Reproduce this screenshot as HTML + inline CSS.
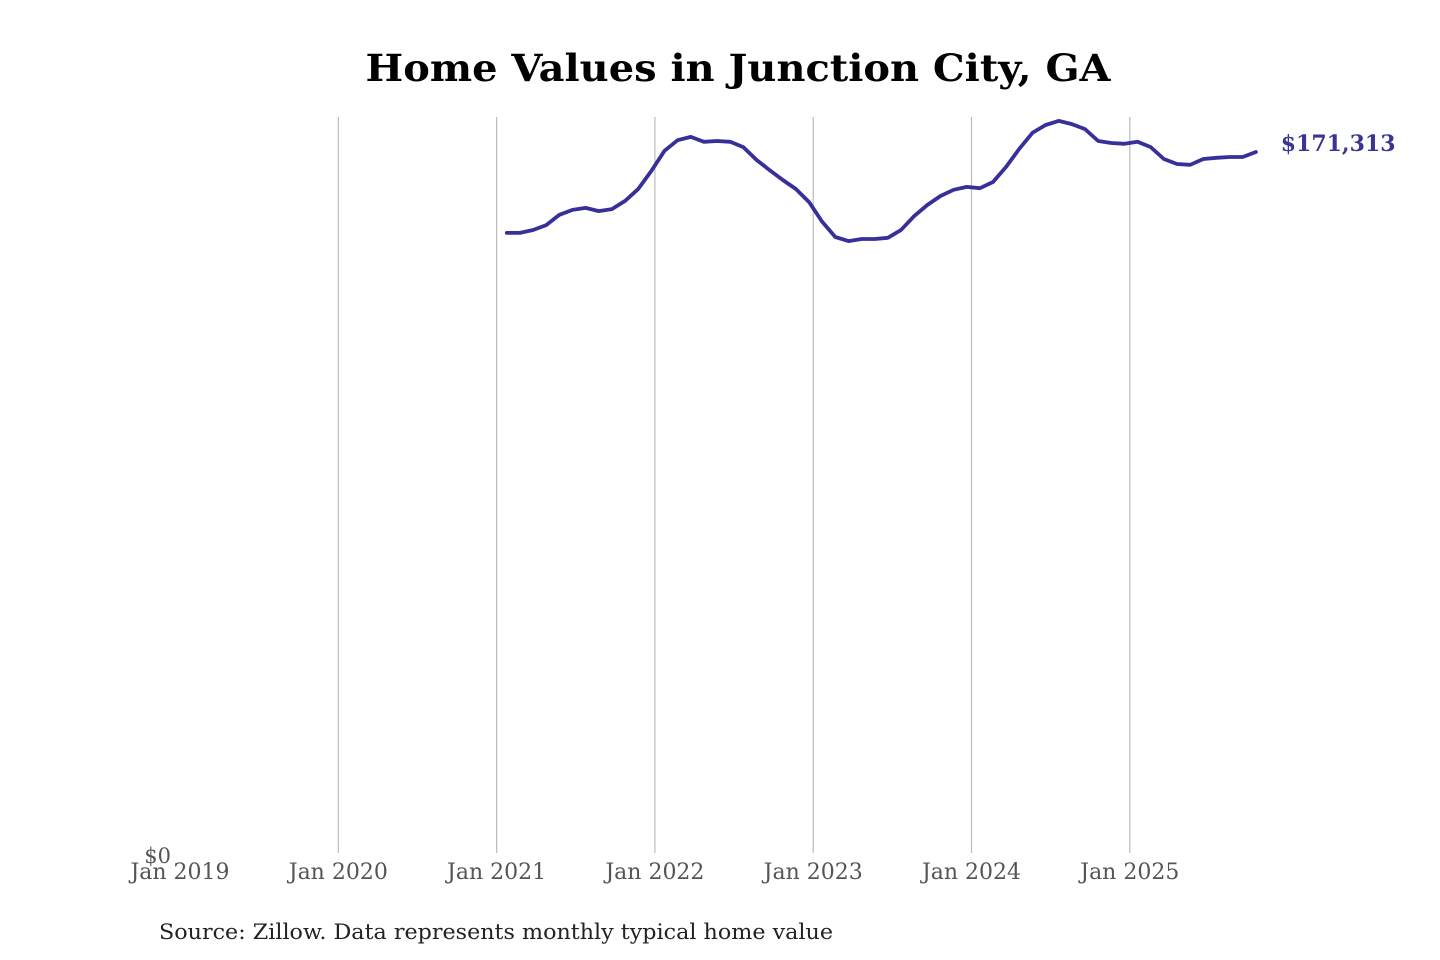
<!DOCTYPE html>
<html><head><meta charset="utf-8"><style>
html,body{margin:0;padding:0;background:#fff;}
svg{display:block;}
text{font-family:"DejaVu Serif","Liberation Serif",serif;}
</style></head><body>
<svg id="chart" width="1440" height="960" viewBox="0 0 1440 960">
<text x="738" y="81" text-anchor="middle" font-size="37" font-weight="bold" fill="#000" textLength="745" lengthAdjust="spacingAndGlyphs">Home Values in Junction City, GA</text>
<g id="grid"></g>
<g id="xaxis"></g>
<text x="171" y="863" text-anchor="end" font-size="21" fill="#555">$0</text>
<g id="series"></g>
<text x="159" y="939" font-size="21" fill="#222" textLength="674" lengthAdjust="spacingAndGlyphs">Source: Zillow. Data represents monthly typical home value</text>
</svg>
<script>
const tickLabels = ["Jan 2019","Jan 2020","Jan 2021","Jan 2022","Jan 2023","Jan 2024","Jan 2025"];
const startMonthIndex = 25; // Feb 2021, months since Jan 2019
const homeValues = [151.6,151.6,152.3,153.5,156.0,157.2,157.7,156.9,157.4,159.4,162.3,166.7,
171.6,174.2,175.0,173.8,174.0,173.8,172.5,169.4,166.9,164.5,162.3,159.1,
154.3,150.6,149.6,150.1,150.1,150.4,152.3,155.7,158.4,160.6,162.1,162.8,
162.5,164.0,167.7,172.1,176.0,177.9,178.9,178.1,176.9,174.0,173.5,173.3,
173.8,172.5,169.6,168.4,168.2,169.6,169.9,170.1,170.1,171.313];
const lastLabel = "$171,313";

const NS = "http://www.w3.org/2000/svg";
const x0 = 180, pxPerMonth = 158.3/12;
const y0 = 855, yTop = 152, vRef = 171.313;
function xs(m){ return x0 + m*pxPerMonth; }
function ys(v){ return y0 - v/vRef*(y0-yTop); }

const grid = document.getElementById('grid');
const xaxis = document.getElementById('xaxis');
tickLabels.forEach((t,i)=>{
  const x = xs(i*12);
  if(i>0){
    const l = document.createElementNS(NS,'line');
    
    
    l.setAttribute('x1',x); l.setAttribute('x2',x);
    l.setAttribute('y1',117); l.setAttribute('y2',853);
    l.setAttribute('stroke','#bbb'); l.setAttribute('stroke-width','1.2');
    grid.appendChild(l);
  }
  const tx = document.createElementNS(NS,'text');
  
  
  tx.setAttribute('x',x); tx.setAttribute('y',879);
  tx.setAttribute('text-anchor','middle'); tx.setAttribute('font-size','22');
  tx.setAttribute('fill','#555');
  tx.textContent = t;
  xaxis.appendChild(tx);
});

const series = document.getElementById('series');
const seriesShift = -3;
let d = '';
homeValues.forEach((v,i)=>{
  d += (i?'L':'M') + (xs(startMonthIndex+i)+seriesShift - i*0.05).toFixed(1) + ',' + ys(v).toFixed(1);
});
const p = document.createElementNS(NS,'path');


p.setAttribute('d',d); p.setAttribute('fill','none');
p.setAttribute('stroke','#37309a'); p.setAttribute('stroke-width','3.8');
p.setAttribute('stroke-linejoin','round'); p.setAttribute('stroke-linecap','round');
series.appendChild(p);

const lastIdx = homeValues.length-1;
const lbl = document.createElementNS(NS,'text');


lbl.setAttribute('x', xs(startMonthIndex+lastIdx)+19);
lbl.setAttribute('y', ys(homeValues[lastIdx])-1);
lbl.setAttribute('font-size','22'); lbl.setAttribute('font-weight','bold');
lbl.setAttribute('fill','#3a3595');
lbl.textContent = lastLabel;
series.appendChild(lbl);
</script>
</body></html>
